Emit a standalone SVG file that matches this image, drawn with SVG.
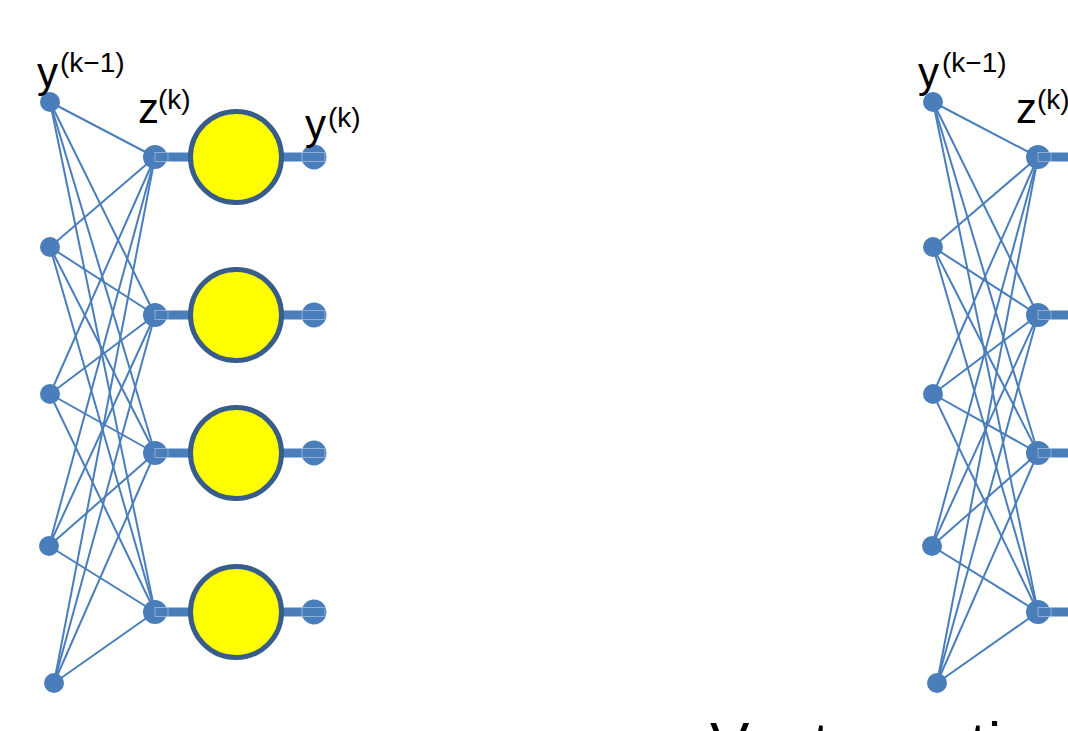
<svg xmlns="http://www.w3.org/2000/svg" width="1068" height="731" viewBox="0 0 1068 731">
  <style>
    .edge { stroke: #4A7EBB; stroke-width: 2; fill: none; }
    .inp { fill: #4A7EBB; }
    .zn { fill: #4A7EBB; }
    .bar { fill: #4A7EBB; }
    .hint { fill: none; stroke: #A9C2E4; stroke-width: 0.7; }
    .act { fill: #FFFF00; stroke: #385D8A; stroke-width: 5; }
    .lbl { font-family: "Liberation Sans", Arial, sans-serif; fill: #000; }
    .big { font-size: 42px; }
    .sup { font-size: 28px; }
  </style>
  <rect x="0" y="0" width="1068" height="731" fill="#FFFFFF"/>

  <!-- LEFT NETWORK -->
  <g id="connectors-left">
    <line class="edge" x1="50" y1="102" x2="155" y2="157"/>
    <line class="edge" x1="50" y1="102" x2="155" y2="315"/>
    <line class="edge" x1="50" y1="102" x2="155" y2="453"/>
    <line class="edge" x1="50" y1="102" x2="155" y2="612"/>
    <line class="edge" x1="50" y1="247" x2="155" y2="157"/>
    <line class="edge" x1="50" y1="247" x2="155" y2="315"/>
    <line class="edge" x1="50" y1="247" x2="155" y2="453"/>
    <line class="edge" x1="50" y1="247" x2="155" y2="612"/>
    <line class="edge" x1="50" y1="394" x2="155" y2="157"/>
    <line class="edge" x1="50" y1="394" x2="155" y2="315"/>
    <line class="edge" x1="50" y1="394" x2="155" y2="453"/>
    <line class="edge" x1="50" y1="394" x2="155" y2="612"/>
    <line class="edge" x1="49" y1="546" x2="155" y2="157"/>
    <line class="edge" x1="49" y1="546" x2="155" y2="315"/>
    <line class="edge" x1="49" y1="546" x2="155" y2="453"/>
    <line class="edge" x1="49" y1="546" x2="155" y2="612"/>
    <line class="edge" x1="54" y1="683" x2="155" y2="157"/>
    <line class="edge" x1="54" y1="683" x2="155" y2="315"/>
    <line class="edge" x1="54" y1="683" x2="155" y2="453"/>
    <line class="edge" x1="54" y1="683" x2="155" y2="612"/>
  </g>

  <g id="left-inputs">
    <circle id="L-in1" class="inp" cx="50" cy="102" r="10"/>
    <circle id="L-in2" class="inp" cx="50" cy="247" r="10"/>
    <circle id="L-in3" class="inp" cx="50" cy="394" r="10"/>
    <circle id="L-in4" class="inp" cx="49" cy="546" r="10"/>
    <circle id="L-in5" class="inp" cx="54" cy="683" r="10"/>
  </g>

  <g id="L-unit1">
    <rect class="bar" x="155" y="152.5" width="160" height="9"/>
    <circle class="zn" cx="155" cy="157" r="12"/>
    <circle class="zn" cx="314" cy="157" r="12.5"/>
    <rect class="hint" x="155" y="152.5" width="13" height="9"/>
    <rect class="hint" x="302" y="152.5" width="23" height="9"/>
    <circle class="act" cx="236" cy="157" r="45.5"/>
  </g>
  <g id="L-unit2">
    <rect class="bar" x="155" y="310.5" width="160" height="9"/>
    <circle class="zn" cx="155" cy="315" r="12"/>
    <circle class="zn" cx="314" cy="315" r="12.5"/>
    <rect class="hint" x="155" y="310.5" width="13" height="9"/>
    <rect class="hint" x="302" y="310.5" width="23" height="9"/>
    <circle class="act" cx="236" cy="315" r="45.5"/>
  </g>
  <g id="L-unit3">
    <rect class="bar" x="155" y="448.5" width="160" height="9"/>
    <circle class="zn" cx="155" cy="453" r="12"/>
    <circle class="zn" cx="314" cy="453" r="12.5"/>
    <rect class="hint" x="155" y="448.5" width="13" height="9"/>
    <rect class="hint" x="302" y="448.5" width="23" height="9"/>
    <circle class="act" cx="236" cy="453" r="45.5"/>
  </g>
  <g id="L-unit4">
    <rect class="bar" x="155" y="607.5" width="160" height="9"/>
    <circle class="zn" cx="155" cy="612" r="12"/>
    <circle class="zn" cx="314" cy="612" r="12.5"/>
    <rect class="hint" x="155" y="607.5" width="13" height="9"/>
    <rect class="hint" x="302" y="607.5" width="23" height="9"/>
    <circle class="act" cx="236" cy="612" r="45.5"/>
  </g>

  <g id="L-labels">
    <text class="lbl big" x="37" y="87">y</text>
    <text class="lbl sup" x="60" y="72">(k−1)</text>
    <text class="lbl big" x="138" y="123">z</text>
    <text class="lbl sup" x="158" y="109">(k)</text>
    <text class="lbl big" x="305" y="139">y</text>
    <text class="lbl sup" x="328" y="127">(k)</text>
  </g>

  <!-- RIGHT NETWORK (cut at the frame edge) -->
  <g id="connectors-right" transform="translate(883,0)">
    <line class="edge" x1="50" y1="102" x2="155" y2="157"/>
    <line class="edge" x1="50" y1="102" x2="155" y2="315"/>
    <line class="edge" x1="50" y1="102" x2="155" y2="453"/>
    <line class="edge" x1="50" y1="102" x2="155" y2="612"/>
    <line class="edge" x1="50" y1="247" x2="155" y2="157"/>
    <line class="edge" x1="50" y1="247" x2="155" y2="315"/>
    <line class="edge" x1="50" y1="247" x2="155" y2="453"/>
    <line class="edge" x1="50" y1="247" x2="155" y2="612"/>
    <line class="edge" x1="50" y1="394" x2="155" y2="157"/>
    <line class="edge" x1="50" y1="394" x2="155" y2="315"/>
    <line class="edge" x1="50" y1="394" x2="155" y2="453"/>
    <line class="edge" x1="50" y1="394" x2="155" y2="612"/>
    <line class="edge" x1="49" y1="546" x2="155" y2="157"/>
    <line class="edge" x1="49" y1="546" x2="155" y2="315"/>
    <line class="edge" x1="49" y1="546" x2="155" y2="453"/>
    <line class="edge" x1="49" y1="546" x2="155" y2="612"/>
    <line class="edge" x1="54" y1="683" x2="155" y2="157"/>
    <line class="edge" x1="54" y1="683" x2="155" y2="315"/>
    <line class="edge" x1="54" y1="683" x2="155" y2="453"/>
    <line class="edge" x1="54" y1="683" x2="155" y2="612"/>
  </g>

  <g id="right-inputs" transform="translate(883,0)">
    <circle id="R-in1" class="inp" cx="50" cy="102" r="10"/>
    <circle id="R-in2" class="inp" cx="50" cy="247" r="10"/>
    <circle id="R-in3" class="inp" cx="50" cy="394" r="10"/>
    <circle id="R-in4" class="inp" cx="49" cy="546" r="10"/>
    <circle id="R-in5" class="inp" cx="54" cy="683" r="10"/>
  </g>

  <g id="R-z1" transform="translate(883,0)">
    <rect class="bar" x="155" y="152.5" width="40" height="9"/>
    <circle class="zn" cx="155" cy="157" r="12"/>
    <rect class="hint" x="155" y="152.5" width="13" height="9"/>
  </g>
  <g id="R-z2" transform="translate(883,0)">
    <rect class="bar" x="155" y="310.5" width="40" height="9"/>
    <circle class="zn" cx="155" cy="315" r="12"/>
    <rect class="hint" x="155" y="310.5" width="13" height="9"/>
  </g>
  <g id="R-z3" transform="translate(883,0)">
    <rect class="bar" x="155" y="448.5" width="40" height="9"/>
    <circle class="zn" cx="155" cy="453" r="12"/>
    <rect class="hint" x="155" y="448.5" width="13" height="9"/>
  </g>
  <g id="R-z4" transform="translate(883,0)">
    <rect class="bar" x="155" y="607.5" width="40" height="9"/>
    <circle class="zn" cx="155" cy="612" r="12"/>
    <rect class="hint" x="155" y="607.5" width="13" height="9"/>
  </g>

  <g id="R-labels">
    <text class="lbl big" x="918" y="87">y</text>
    <text class="lbl sup" x="942" y="72">(k−1)</text>
    <text class="lbl big" x="1016" y="123">z</text>
    <text class="lbl sup" x="1037" y="109">(k)</text>
  </g>

  <g id="caption">
    <text class="lbl" x="710" y="764" font-size="59" textLength="291" lengthAdjust="spacing">Vector acti</text>
  </g>
</svg>
